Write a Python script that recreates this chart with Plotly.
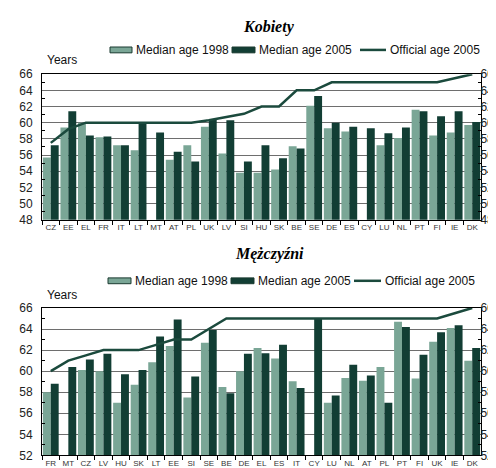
import plotly.graph_objects as go

# ---- Data: women (Kobiety) ----
w_countries = ["CZ", "EE", "EL", "FR", "IT", "LT", "MT", "AT", "PL", "UK", "LV", "SI", "HU",
               "SK", "BE", "SE", "DE", "ES", "CY", "LU", "NL", "PT", "FI", "IE", "DK"]
w_median_1998 = [55.7, 59.4, 60.0, 58.2, 57.2, 56.6, None, 55.4, 57.2, 59.5, 56.2, 53.8, 53.8,
                 54.2, 57.1, 62.1, 59.3, 58.9, None, 57.2, 58.1, 61.6, 58.4, 58.8, 59.7]
w_median_2005 = [57.2, 61.4, 58.4, 58.3, 57.2, 60.0, 58.8, 56.4, 55.2, 60.4, 60.3, 55.2, 57.2,
                 55.6, 56.8, 63.3, 60.0, 59.5, 59.3, 58.7, 59.4, 61.4, 60.8, 61.4, 60.1]
w_official_2005 = [57.5, 59.2, 60.0, 60.0, 60.0, 60.0, 60.0, 60.0, 60.0, 60.3, 60.7, 61.1, 62.0,
                   62.0, 64.0, 64.0, 65.0, 65.0, 65.0, 65.0, 65.0, 65.0, 65.0, 65.5, 66.0]

# ---- Data: men (Mężczyźni) ----
m_countries = ["FR", "MT", "CZ", "LV", "HU", "SK", "LT", "EE", "SI", "SE", "BE", "DE", "EL",
               "ES", "IT", "CY", "LU", "NL", "AT", "PL", "PT", "FI", "UK", "IE", "DK"]
m_median_1998 = [58.0, None, 60.1, 60.0, 57.0, 58.7, 60.85, 62.4, 57.5, 62.7, 58.5, 60.0, 62.2,
                 61.2, 59.05, None, 57.0, 59.35, 59.1, 60.4, 64.7, 59.3, 62.8, 64.1, 61.0]
m_median_2005 = [58.8, 60.4, 61.1, 61.65, 59.7, 60.1, 63.3, 64.9, 59.5, 63.9, 57.9, 61.65, 61.7,
                 62.5, 58.4, 65.0, 57.7, 60.6, 59.6, 57.0, 64.2, 61.55, 63.7, 64.35, 62.2]
m_official_2005 = [60.0, 61.0, 61.5, 62.0, 62.0, 62.0, 62.5, 63.0, 63.0, 64.0, 65.0, 65.0, 65.0,
                   65.0, 65.0, 65.0, 65.0, 65.0, 65.0, 65.0, 65.0, 65.0, 65.0, 65.5, 66.0]

titles = ["Kobiety", "Mężczyźni"]
series_names = ["Median age 1998", "Median age 2005", "Official age 2005"]

LIGHT = "#7aa696"
DARK = "#123e34"
LINE = "#1b4a3d"
FONT = "Liberation Sans, Arial, sans-serif"

W, H = 496, 468
fig = go.Figure()

panels = [
    dict(cats=w_countries, b98=w_median_1998, b05=w_median_2005, off=w_official_2005,
         top=61, bottom=211, rng=[48, 66], title_y=12, leg_y=36, years_y=46,
         leg_x=[102, 224, 352], leg_w=[22, 23, 26]),
    dict(cats=m_countries, b98=m_median_1998, b05=m_median_2005, off=m_official_2005,
         top=302, bottom=454, rng=[52, 66], title_y=246, leg_y=274, years_y=289,
         leg_x=[100, 223, 346], leg_w=[23, 23, 27]),
]

x_left, x_right = 34, 473
xdom = [x_left / W, x_right / W]


def px(xp):
    return xp / W


def py(yp):
    return 1 - yp / H


for i, p in enumerate(panels):
    n = i + 1
    xa = "x" if n == 1 else f"x{n}"
    ya = "y" if n == 1 else f"y{(n - 1) * 2 + 1}"
    ya2 = f"y{(n - 1) * 2 + 2}"
    ya_name = "yaxis" if n == 1 else f"yaxis{(n - 1) * 2 + 1}"
    ya2_name = f"yaxis{(n - 1) * 2 + 2}"
    xa_name = "xaxis" if n == 1 else f"xaxis{n}"

    fig.add_trace(go.Bar(x=p["cats"], y=p["b98"], name=series_names[0], xaxis=xa, yaxis=ya,
                         marker=dict(color=LIGHT, line=dict(width=0)), offsetgroup="a",
                         showlegend=False))
    fig.add_trace(go.Bar(x=p["cats"], y=p["b05"], name=series_names[1], xaxis=xa, yaxis=ya,
                         marker=dict(color=DARK, line=dict(width=0)), offsetgroup="b",
                         showlegend=False))
    fig.add_trace(go.Scatter(x=p["cats"], y=p["off"], name=series_names[2], xaxis=xa, yaxis=ya2,
                             mode="lines", line=dict(color=LINE, width=2.5), showlegend=False))

    ydom = [1 - p["bottom"] / H, 1 - p["top"] / H]
    fig.layout[xa_name] = dict(domain=xdom, anchor=ya, type="category", tickangle=0,
                               tickfont=dict(size=8, color="#333333", family=FONT),
                               ticks="outside", ticklen=4, tickcolor="black",
                               tickson="boundaries", showline=True, linecolor="black",
                               linewidth=1, mirror=True, showgrid=False, fixedrange=True)
    common_y = dict(domain=ydom, range=p["rng"], dtick=2, tick0=0,
                    tickfont=dict(size=12, color="#222222", family=FONT),
                    ticks="", showline=True, linecolor="black", linewidth=1,
                    minor=dict(ticks="inside", dtick=1, ticklen=3, tickcolor="black"),
                    zeroline=False, fixedrange=True)
    fig.layout[ya_name] = dict(common_y, anchor=xa, side="left", showgrid=True,
                               gridcolor="#6e6e6e", gridwidth=1, ticklabelstandoff=6)
    fig.layout[ya2_name] = dict(common_y, anchor=xa, overlaying=ya, side="right",
                                showgrid=False, ticklabelstandoff=-4)

    # custom legend (keys + labels)
    ly = p["leg_y"]
    lx = p["leg_x"]
    lw = p["leg_w"]
    for k, col in enumerate([LIGHT, DARK]):
        fig.add_shape(type="rect", xref="paper", yref="paper",
                      x0=px(lx[k]), x1=px(lx[k] + lw[k]), y0=py(ly + 3), y1=py(ly - 3),
                      fillcolor=col, line=dict(color="#1a3a30", width=1))
    fig.add_shape(type="line", xref="paper", yref="paper",
                  x0=px(lx[2]), x1=px(lx[2] + lw[2]), y0=py(ly), y1=py(ly),
                  line=dict(color=LINE, width=2.5))
    for k in range(3):
        fig.add_annotation(text=series_names[k], xref="paper", yref="paper",
                           x=px(lx[k] + lw[k] + 2), y=py(ly), xanchor="left", yanchor="middle",
                           showarrow=False, font=dict(size=12, family=FONT, color="#111111"))

    fig.add_annotation(text=f"<b><i>{titles[i]}</i></b>", xref="paper", yref="paper",
                       x=px(261), y=py(p["title_y"]), xanchor="center", yanchor="middle",
                       showarrow=False,
                       font=dict(size=16, family="Liberation Serif, Times New Roman, serif",
                                 color="black"))
    fig.add_annotation(text="Years", xref="paper", yref="paper",
                       x=px(37), y=py(p["years_y"]), xanchor="left", yanchor="middle",
                       showarrow=False, font=dict(size=12, family=FONT, color="#111111"))

fig.update_layout(width=W, height=H, margin=dict(l=0, r=0, t=0, b=0),
                  paper_bgcolor="white", plot_bgcolor="white",
                  barmode="group", bargap=0.1, bargroupgap=0, showlegend=False)

fig.write_html("out.html")
